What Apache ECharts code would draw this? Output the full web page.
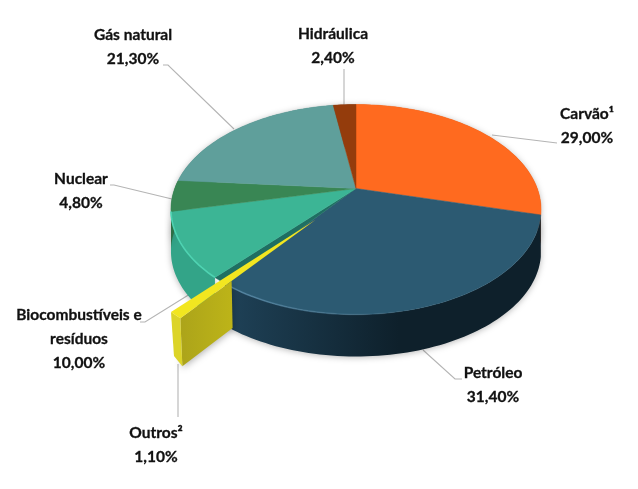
<!DOCTYPE html>
<html><head><meta charset="utf-8">
<style>html,body{margin:0;padding:0;background:#fff}#c{width:638px;height:489px}</style>
<script src="https://cdn.jsdelivr.net/npm/echarts@6/dist/echarts.min.js"></script>
</head><body><div id="c"></div>
<script>
// Data
const categories = ['Carvão¹','Petróleo','Outros²','Biocombustíveis e\nresíduos','Nuclear','Gás natural','Hidráulica'];
const values = [29.0,31.4,1.1,10.0,4.8,21.3,2.4];

// Styles and layout
const topColors  = ['#ff6a1f','#2c5a72','#f2e620','#3cb595','#398654','#5f9f9b','#943c0c'];
const sideColors = [['#c9500f','#c9500f'],['#1f4258','#0e202b'],['#dcd428','#dcd428'],['#2f9c82','#33a488'],['#2e6e45','#2e6e45'],['#4b807c','#4b807c'],['#6e2c08','#6e2c08']];
const labelBoxes = [[587,126],[493,385],[156,445],[79,339],[81,191],[133,47],[333,46]];
const leaders = [
  [[557,143],[492,135]],
  [[462,379],[455,379],[423,350]],
  [[178,417],[178,364]],
  [[140,322],[145,322],[190,294]],
  [[110,185],[114,185],[172,199]],
  [[163,65],[168,65],[234,129]],
  [[344,69],[344,105]]
];
const C = {x:356,y:188.5,a:100.8,b:181.3,k:0.2,depth:42};
const EXPLODED = 2, WEDGE = {du:-0.208,dv:-0.29,r:0.925,depth:48,faceStop:0.378};

function project(u,v){const d=1+C.k*v;return [C.x+C.b*u/d,C.y-C.a*v/d];}
function arc(a0,a1,r=1,du=0,dv=0){const pts=[];const n=Math.max(2,Math.ceil((a1-a0)/1.5));
  for(let i=0;i<=n;i++){const t=(a0+(a1-a0)*i/n)*Math.PI/180;pts.push(project(du+r*Math.sin(t),dv+r*Math.cos(t)));}return pts;}
const total = values.reduce((s,v)=>s+v,0);
const starts=[];values.reduce((s,v,i)=>{starts[i]=s;return s+v;},0);
const LG = echarts.graphic.LinearGradient;

function renderItem(params,api){
  const i=params.dataIndex, val=api.value(0);
  const a0=starts[i]/total*360, a1=(starts[i]+val)/total*360;
  const children=[];
  if(i===EXPLODED){
    // the gap the pulled-out slice leaves in the pie
    const gap=arc(a0,a1);
    children.push({type:'polygon',z2:3,shape:{points:[[C.x,C.y]].concat(gap)},style:{fill:'#1f6f62',stroke:'#1f6f62',lineWidth:0.5}});
    const tip=project(WEDGE.du,WEDGE.dv);
    const oa=project(WEDGE.du+WEDGE.r*Math.sin(a0*Math.PI/180),WEDGE.dv+WEDGE.r*Math.cos(a0*Math.PI/180));
    const ob=project(WEDGE.du+WEDGE.r*Math.sin(a1*Math.PI/180),WEDGE.dv+WEDGE.r*Math.cos(a1*Math.PI/180));
    const d=WEDGE.depth;
    const stop=[oa[0]+(tip[0]-oa[0])*WEDGE.faceStop,oa[1]+(tip[1]-oa[1])*WEDGE.faceStop];
    children.push({type:'polygon',z2:6,shape:{points:[oa,stop,[stop[0]+1,stop[1]+d-1],[oa[0]+2,oa[1]+d]]},
      style:{fill:new LG(0,0,1,0,[{offset:0,color:'#aca41a'},{offset:1,color:'#bdb418'}]),shadowBlur:7,shadowColor:'rgba(0,0,0,.3)',shadowOffsetY:2}});
    children.push({type:'polygon',z2:7,shape:{points:[ob,oa,[oa[0]+2,oa[1]+d],[ob[0]+3,ob[1]+d-4]]},
      style:{fill:sideColors[i][0]}});
    children.push({type:'polygon',z2:8,shape:{points:[tip,ob,oa]},style:{fill:topColors[i]}});
  } else {
    const edge=arc(a0,a1);
    const low=edge.map(p=>[p[0],p[1]+C.depth]).reverse();
    children.push({type:'polygon',z2:1,shape:{points:edge.concat(low)},
      style:{fill:new LG(0,0,1,0,[{offset:0,color:sideColors[i][1]},{offset:1,color:sideColors[i][1]}]),
             shadowBlur:6,shadowColor:'rgba(0,0,0,.28)',shadowOffsetY:1}});
    if(i===1){
      // Petróleo's side runs from lighter at the left to darker at the right
      children[0].style.fill=new LG(0,0,1,0,[{offset:0,color:sideColors[i][0]},{offset:0.55,color:sideColors[i][1]},{offset:1,color:sideColors[i][1]}]);
    }
    children.push({type:'polygon',z2:3,shape:{points:[[C.x,C.y]].concat(edge)},style:{fill:topColors[i],stroke:topColors[i],lineWidth:0.5}});
    if(i===1){
      const rim=arc(168,a1);
      children.push({type:'polyline',z2:4,shape:{points:rim},style:{fill:'none',lineWidth:1.6,
        stroke:new LG(0,0,1,0,[{offset:0,color:'rgba(90,140,170,.85)'},{offset:1,color:'rgba(90,140,170,0)'}])}});
    }
    if(i===3){
      const rim=arc(a0,a1);
      children.push({type:'polyline',z2:4,shape:{points:rim},style:{fill:'none',lineWidth:1.6,stroke:'#4fd3b2'}});
    }
  }
  children.push({type:'polyline',z2:0,shape:{points:leaders[i]},style:{fill:'none',stroke:'#b4b4b4',lineWidth:1.1}});
  const pct=val.toFixed(2).replace('.',',')+'%';
  children.push({type:'text',z2:10,x:labelBoxes[i][0],y:labelBoxes[i][1],style:{
    text:categories[i]+'\n'+pct,align:'center',verticalAlign:'middle',fill:'#111',stroke:'#111',lineWidth:0.3,
    font:'bold 15.5px Lato, sans-serif',lineHeight:24}});
  return {type:'group',children};
}

const chart=echarts.init(document.getElementById('c'),null,{renderer:'canvas'});
chart.setOption({
  backgroundColor:'#fff',animation:false,
  series:[{type:'custom',coordinateSystem:'none',silent:true,renderItem,
    data:values.map((v,i)=>({name:categories[i],value:[v]}))}]
});
</script></body></html>
